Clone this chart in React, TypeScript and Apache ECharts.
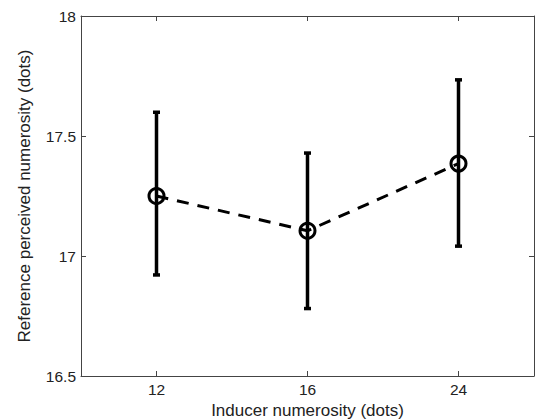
import React, { useEffect, useRef } from "react";
import * as echarts from "echarts";

const categories = ["12", "16", "24"];
const means = [17.25, 17.105, 17.385];
const lower = [16.92, 16.78, 17.04];
const upper = [17.6, 17.43, 17.735];
const yTicks = [16.5, 17, 17.5, 18];

export default function App() {
  const ref = useRef<HTMLDivElement>(null);
  useEffect(() => {
    if (!ref.current) return;
    const chart = echarts.init(ref.current, undefined, { renderer: "svg" });
    const font = "Liberation Sans, Arial, Helvetica, sans-serif";
    const axisLine = { show: true, lineStyle: { color: "#444", width: 1 } };
    const errData = categories.map((_, i) => [i, lower[i], upper[i]]);
    chart.setOption({
      animation: false,
      backgroundColor: "#fff",
      grid: { left: 81, right: 3, top: 16, bottom: 44, containLabel: false, outerBoundsMode: "none" },
      xAxis: [
        {
          type: "category",
          data: categories,
          boundaryGap: true,
          axisLine,
          axisTick: { show: true, inside: true, alignWithLabel: true, length: 5, lineStyle: { color: "#444" } },
          axisLabel: { color: "#222", fontSize: 15.5, fontFamily: font, margin: 5 },
          name: "Inducer numerosity (dots)",
          nameLocation: "middle",
          nameGap: 24,
          nameTextStyle: { color: "#222", fontSize: 17, fontFamily: font },
          splitLine: { show: false },
        },
        {
          type: "category",
          data: categories,
          position: "top",
          boundaryGap: true,
          axisLine,
          axisTick: { show: true, inside: true, alignWithLabel: true, length: 5, lineStyle: { color: "#444" } },
          axisLabel: { show: false },
          splitLine: { show: false },
        },
      ],
      yAxis: [
        {
          type: "value",
          min: 16.5,
          max: 18,
          interval: 0.5,
          axisLine,
          axisTick: { show: true, inside: true, length: 5, lineStyle: { color: "#444" } },
          axisLabel: {
            color: "#222",
            fontSize: 15.5,
            fontFamily: font,
            margin: 5,
            formatter: (v: number) => (yTicks.includes(v) ? String(v) : ""),
          },
          splitLine: { show: false },
          name: "Reference perceived numerosity (dots)",
          nameLocation: "middle",
          nameRotate: 90,
          nameGap: 48,
          nameTextStyle: { color: "#222", fontSize: 17, fontFamily: font },
        },
        {
          type: "value",
          min: 16.5,
          max: 18,
          interval: 0.5,
          position: "right",
          axisLine,
          axisTick: { show: true, inside: true, length: 5, lineStyle: { color: "#444" } },
          axisLabel: { show: false },
          splitLine: { show: false },
        },
      ],
      series: [
        {
          type: "custom",
          xAxisIndex: 0,
          yAxisIndex: 0,
          data: errData,
          renderItem: (params: any, api: any) => {
            const x = api.value(0);
            const lo = api.coord([x, api.value(1)]);
            const hi = api.coord([x, api.value(2)]);
            const cw = 3.5;
            return {
              type: "group",
              children: [
                {
                  type: "line",
                  shape: { x1: lo[0], y1: lo[1], x2: hi[0], y2: hi[1] },
                  style: { stroke: "#000", lineWidth: 3.5 },
                },
                {
                  type: "rect",
                  shape: { x: hi[0] - cw, y: hi[1] - 1.5, width: cw * 2, height: 3.5 },
                  style: { fill: "#000" },
                },
                {
                  type: "rect",
                  shape: { x: lo[0] - cw, y: lo[1] - 2, width: cw * 2, height: 3.5 },
                  style: { fill: "#000" },
                },
              ],
            };
          },
          z: 1,
        },
        {
          type: "line",
          data: means,
          symbol: "circle",
          symbolSize: 15,
          itemStyle: { color: "rgba(0,0,0,0)", borderColor: "#000", borderWidth: 3 },
          lineStyle: { color: "#000", width: 3, type: [12, 9] },
          z: 2,
        },
      ],
    });
    return () => chart.dispose();
  }, []);
  return <div ref={ref} style={{ width: 537, height: 420, position: "absolute", left: 0, top: 0 }} />;
}
